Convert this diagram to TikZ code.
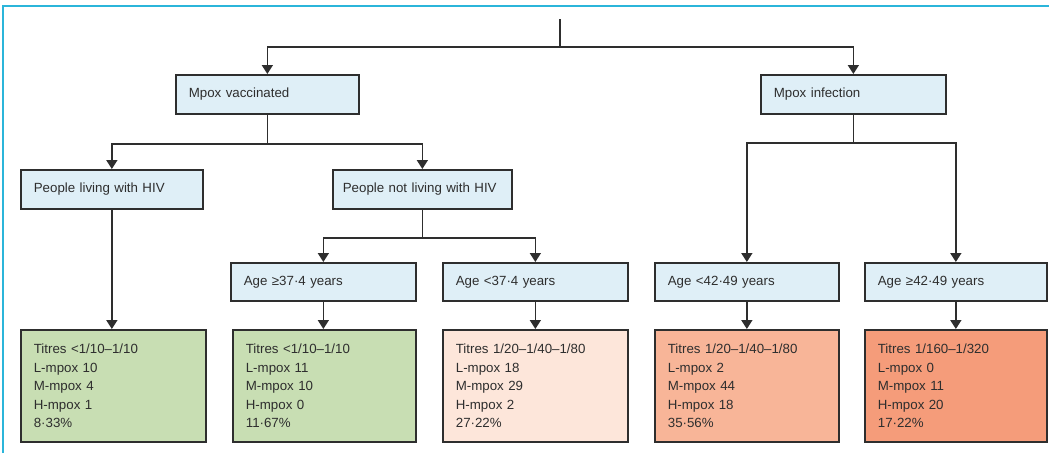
\documentclass[tikz,border=0pt]{standalone}
\usepackage{fontspec}
\setmainfont{Liberation Sans}
\usetikzlibrary{arrows.meta}
\definecolor{headblue}{HTML}{DFEFF7}
\definecolor{resgreen}{HTML}{C8DEB3}
\definecolor{respeach}{HTML}{FDE6DA}
\definecolor{ressalmon}{HTML}{F8B598}
\definecolor{resred}{HTML}{F59C7A}
\definecolor{framecyan}{HTML}{2BB5DA}
\definecolor{linegray}{HTML}{2E2E2E}
\begin{document}
\begin{tikzpicture}[x=1pt,y=-1pt,
    box/.style={draw=linegray, line width=1.7pt, anchor=north west, inner xsep=13pt, inner ysep=0pt,
      align=left, text=linegray, font=\fontsize{13.3}{18.5}\selectfont},
    head/.style={box, fill=headblue, minimum height=39pt, text width=#1},
    res/.style={box, minimum height=112pt, text width=#1},
    link/.style={draw=linegray, line width=1.7pt},
    arr/.style={link, -{Triangle[width=11pt,length=9pt]}}]
    \useasboundingbox (0,0) rectangle (1049,453);
    \draw[framecyan, line width=2.2pt] (3,453) -- (3,6) -- (1049,6);
    % first split
    \node[head=157pt] (vac) at (175,74) {Mpox vaccinated};
    \node[head=159pt] (inf) at (760,74) {Mpox infection};
    % second row
    \node[head=156pt] (hivpos) at (20,169) {People living with HIV};
    \node[head=159pt, inner xsep=10pt] (hivneg) at (332,169) {People not living with HIV};
    % age groups
    \node[head=159pt, minimum height=38pt] (agea) at (230,262) {Age ≥37·4 years};
    \node[head=159pt, minimum height=38pt] (ageb) at (442,262) {Age <37·4 years};
    \node[head=158pt, minimum height=38pt] (agec) at (654,262) {Age <42·49 years};
    \node[head=156pt, minimum height=38pt] (aged) at (864,262) {Age ≥42·49 years};
    % titres
    \node[res=159pt, fill=resgreen] (res1) at (20,329)
      {Titres <1/10–1/10\\L-mpox 10\\M-mpox 4\\H-mpox 1\\8·33\%};
    \node[res=157pt, fill=resgreen] (res2) at (232,329)
      {Titres <1/10–1/10\\L-mpox 11\\M-mpox 10\\H-mpox 0\\11·67\%};
    \node[res=159pt, fill=respeach] (res3) at (442,329)
      {Titres 1/20–1/40–1/80\\L-mpox 18\\M-mpox 29\\H-mpox 2\\27·22\%};
    \node[res=158pt, fill=ressalmon] (res4) at (654,329)
      {Titres 1/20–1/40–1/80\\L-mpox 2\\M-mpox 44\\H-mpox 18\\35·56\%};
    \node[res=156pt, fill=resred] (res5) at (864,329)
      {Titres 1/160–1/320\\L-mpox 0\\M-mpox 11\\H-mpox 20\\17·22\%};
    % connectors
    \coordinate (top) at (560,19);
    \draw[link] (top) -- ++(0,28) coordinate (split);
    \draw[arr] (split) -| (vac.north);
    \draw[arr] (split) -| (inf.north);
    \draw[link] (vac.south) -- ++(0,29) coordinate (vsplit);
    \draw[arr] (vsplit) -| (hivpos.north);
    \draw[arr] (vsplit) -| (hivneg.north);
    \draw[arr] (hivpos.south) -- (hivpos.south |- res1.north);
    \draw[link] (hivneg.south) -- ++(0,28) coordinate (nsplit);
    \draw[arr] (nsplit) -| (agea.north);
    \draw[arr] (nsplit) -| (ageb.north);
    \draw[link] (inf.south) -- ++(0,28) coordinate (isplit);
    \draw[arr] (isplit) -| (agec.north);
    \draw[arr] (isplit) -| (aged.north);
    \draw[arr] (agea.south) -- (agea.south |- res2.north);
    \draw[arr] (ageb.south) -- (ageb.south |- res3.north);
    \draw[arr] (agec.south) -- (agec.south |- res4.north);
    \draw[arr] (aged.south) -- (aged.south |- res5.north);
\end{tikzpicture}
\end{document}
